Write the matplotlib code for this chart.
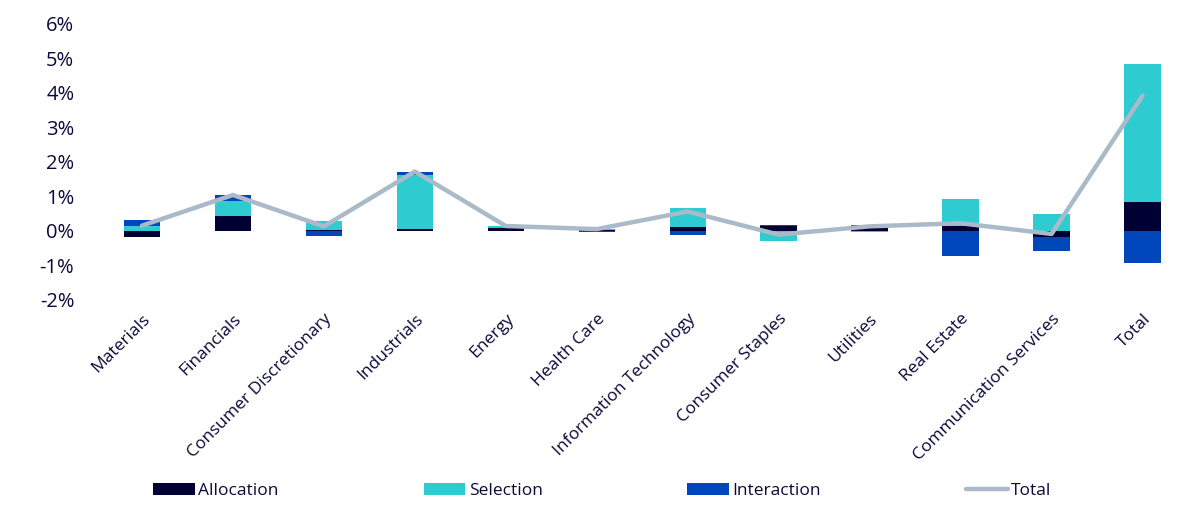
"""Stacked attribution bars (Allocation / Selection / Interaction) with Total line."""

import matplotlib
matplotlib.use("Agg")
import matplotlib.pyplot as plt
import numpy as np
from matplotlib.ticker import FuncFormatter

sectors = [
    "Materials", "Financials", "Consumer Discretionary", "Industrials", "Energy",
    "Health Care", "Information Technology", "Consumer Staples", "Utilities",
    "Real Estate", "Communication Services", "Total",
]
allocation = [-0.17, 0.43, 0.01, 0.04, 0.08, 0.02, 0.12, 0.14, 0.09, 0.13, -0.18, 0.84]
selection = [0.15, 0.43, 0.27, 1.57, 0.05, 0.03, 0.53, -0.29, -0.04, 0.80, 0.50, 3.99]
interaction = [0.17, 0.17, -0.14, 0.09, 0.01, -0.04, -0.11, 0.02, 0.08, -0.74, -0.41, -0.92]
total = [0.15, 1.04, 0.13, 1.72, 0.14, 0.05, 0.56, -0.11, 0.13, 0.22, -0.09, 3.92]

TEXT = "#0a0a3a"
COLORS = {"Allocation": "#000033", "Selection": "#2ecbd1", "Interaction": "#0047bb"}
LINE = "#abbac8"

plt.rcParams["font.family"] = ["Open Sans", "DejaVu Sans"]

fig = plt.figure(figsize=(12, 5.09), dpi=100)
ax = fig.add_axes([0.0804, 0.411, 0.9096, 0.542])

x = np.arange(len(sectors))
pos_base = np.zeros(len(sectors))
neg_base = np.zeros(len(sectors))
for name, vals in [("Allocation", allocation), ("Selection", selection), ("Interaction", interaction)]:
    v = np.array(vals)
    base = np.where(v >= 0, pos_base, neg_base)
    ax.bar(x, v, bottom=base, width=0.4, color=COLORS[name], linewidth=0,
           label=name, zorder=2)
    pos_base += np.where(v >= 0, v, 0)
    neg_base += np.where(v < 0, v, 0)

ax.plot(x, total, color=LINE, linewidth=3.2, label="Total", zorder=3,
        solid_capstyle="round")

ax.set_xlim(-0.5, len(sectors) - 0.5)
ax.set_ylim(-2, 6)
ax.set_yticks(range(-2, 7))
ax.yaxis.set_major_formatter(FuncFormatter(lambda v, _: f"{v:.0f}%"))
ax.set_xticks(x)
ax.set_xticklabels(sectors, rotation=45, ha="right", rotation_mode="anchor")
ax.tick_params(axis="y", length=0, labelsize=14.5, labelcolor=TEXT, pad=16)
ax.tick_params(axis="x", length=0, labelsize=12.5, labelcolor=TEXT, pad=8)
for s in ax.spines.values():
    s.set_visible(False)

handles, labels = ax.get_legend_handles_labels()
order = [1, 2, 3, 0]
leg = fig.legend([handles[i] for i in order], [labels[i] for i in order],
                 loc="center", ncol=4, mode="expand", frameon=False,
                 bbox_to_anchor=(0.122, 0.005, 0.76, 0.06), fontsize=12.5,
                 handlelength=2.4, handletextpad=0.2, borderaxespad=0)
for t in leg.get_texts():
    t.set_color(TEXT)

fig.savefig("out.png", dpi=100)
